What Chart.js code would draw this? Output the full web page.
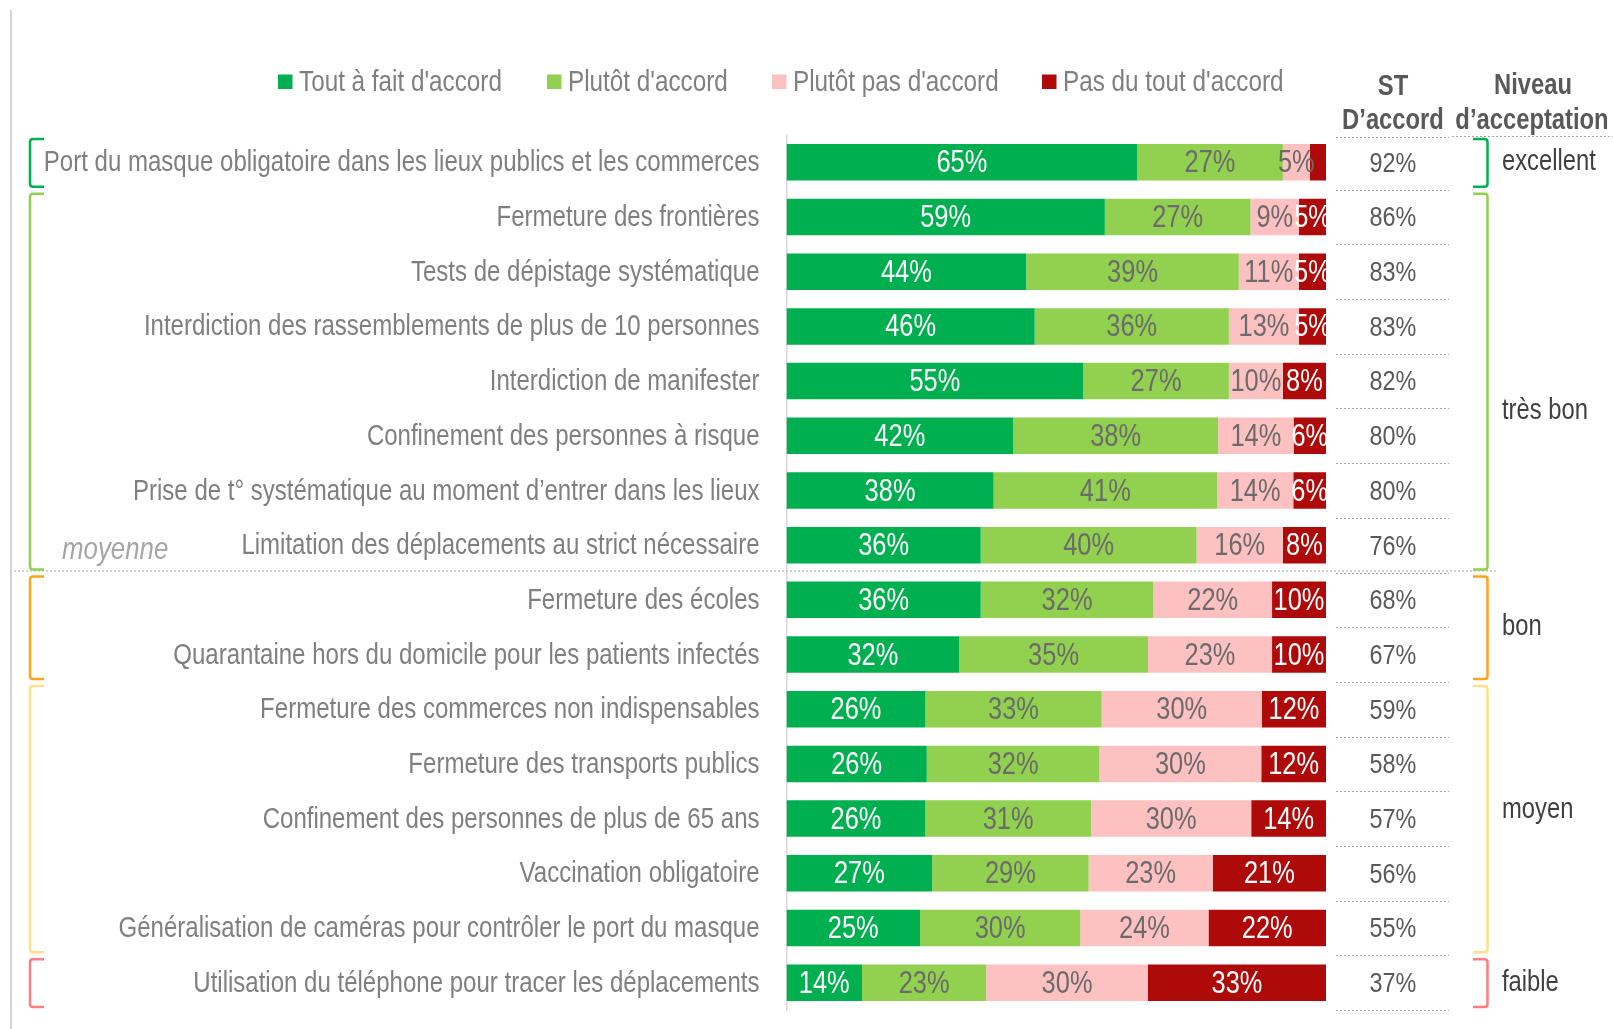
<!DOCTYPE html>
<html><head><meta charset="utf-8">
<script src="https://cdn.jsdelivr.net/npm/chart.js@4/dist/chart.umd.min.js"></script>
<style>html,body{margin:0;padding:0;background:#fff;overflow:hidden}#wrap{width:1613px;height:1029px;position:relative}canvas{display:block}</style>
</head><body><div id="wrap"><canvas id="c" width="1613" height="1029" style="width:1613px;height:1029px"></canvas></div>
<script>
const categories = [
  "Port du masque obligatoire dans les lieux publics et les commerces",
  "Fermeture des frontières",
  "Tests de dépistage systématique",
  "Interdiction des rassemblements de plus de 10 personnes",
  "Interdiction de manifester",
  "Confinement des personnes à risque",
  "Prise de t° systématique au moment d’entrer dans les lieux",
  "Limitation des déplacements au strict nécessaire",
  "Fermeture des écoles",
  "Quarantaine hors du domicile pour les patients infectés",
  "Fermeture des commerces non indispensables",
  "Fermeture des transports publics",
  "Confinement des personnes de plus de 65 ans",
  "Vaccination obligatoire",
  "Généralisation de caméras pour contrôler le port du masque",
  "Utilisation du téléphone pour tracer les déplacements"
];
const toutAFait = [65,59,44,46,55,42,38,36,36,32,26,26,26,27,25,14];
const plutot    = [27,27,39,36,27,38,41,40,32,35,33,32,31,29,30,23];
const plutotPas = [5,9,11,13,10,14,14,16,22,23,30,30,30,23,24,30];
const pasDuTout = [3,5,5,5,8,6,6,8,10,10,12,12,14,21,22,33];
const stAccord  = [92,86,83,83,82,80,80,76,68,67,59,58,57,56,55,37];
const seriesNames = ["Tout à fait d'accord","Plutôt d'accord","Plutôt pas d'accord","Pas du tout d'accord"];
const levelNames = ["excellent","très bon","bon","moyen","faible"];
const levelFirst = [0,1,8,10,15];
const levelLast  = [0,7,9,14,15];
const levelLabelAt = [0,4.55,8.5,11.85,15];
const averageLabel = "moyenne";
const averageAfter = 7;

const seriesColors = ["#00B050","#92D050","#FDC1C1","#AE0A0A"];
const labelColors = ["#ffffff","#6b6b6b","#6b6b6b","#ffffff"];
const levelColors = ["#00B050","#92D050","#FFA41C","#FFE08A","#FF7C80"];
const FONT = "'Liberation Sans',Arial,sans-serif";
const NARROW = 0.82;

const raw = [toutAFait, plutot, plutotPas, pasDuTout];
const totals = categories.map((_, i) => raw.reduce((s, a) => s + a[i], 0));
const datasets = raw.map((arr, k) => ({
  label: seriesNames[k],
  data: arr.map((v, i) => v * 100 / totals[i]),
  backgroundColor: seriesColors[k],
  borderWidth: 0,
  barPercentage: 0.667,
  categoryPercentage: 1
}));

function text(ctx, s, x, y, align, font, color) {
  ctx.save();
  ctx.translate(x, y);
  ctx.scale(NARROW, 1);
  ctx.font = font; ctx.fillStyle = color;
  ctx.textAlign = align; ctx.textBaseline = "middle";
  ctx.fillText(s, 0, 0);
  ctx.restore();
}
function dotted(ctx, x1, y1, x2, y2) {
  ctx.save();
  ctx.strokeStyle = "#a6a6a6"; ctx.lineWidth = 1; ctx.setLineDash([2,2]);
  ctx.beginPath(); ctx.moveTo(x1, y1); ctx.lineTo(x2, y2); ctx.stroke();
  ctx.restore();
}
function bracket(ctx, xv, xt, y1, y2, color) {
  const r = 3;
  const d = xt > xv ? 1 : -1;
  ctx.save();
  ctx.strokeStyle = color; ctx.lineWidth = 2.5; ctx.lineJoin = "round";
  ctx.beginPath();
  ctx.moveTo(xt, y1);
  ctx.lineTo(xv + d * r, y1);
  ctx.quadraticCurveTo(xv, y1, xv, y1 + r);
  ctx.lineTo(xv, y2 - r);
  ctx.quadraticCurveTo(xv, y2, xv + d * r, y2);
  ctx.lineTo(xt, y2);
  ctx.stroke();
  ctx.restore();
}

const decor = {
  id: "decor",
  beforeDatasetsDraw(chart) {
    const ctx = chart.ctx, y = chart.scales.y;
    const step = (y.bottom - y.top) / categories.length;
    ctx.save(); ctx.strokeStyle = "#c4c4c4"; ctx.lineWidth = 1.5;
    ctx.beginPath(); ctx.moveTo(11, 10); ctx.lineTo(11, 1029); ctx.stroke(); ctx.restore();
    const ya = y.top + step * (averageAfter + 1) - 1.5;
    dotted(ctx, 14, ya, 1497, ya);
  },
  afterDatasetsDraw(chart) {
    const ctx = chart.ctx;
    raw.forEach((arr, k) => {
      const meta = chart.getDatasetMeta(k);
      meta.data.forEach((el, i) => {
        if (arr[i] < 4) return;
        const p = el.getCenterPoint();
        text(ctx, arr[i] + "%", p.x, p.y + 1.5, "center", "31px " + FONT, labelColors[k]);
      });
    });
  },
  afterDraw(chart) {
    const ctx = chart.ctx, y = chart.scales.y;
    const step = (y.bottom - y.top) / categories.length;
    const bnd = i => y.top + step * i;
    y.ticks.forEach((t, i) => {
      text(ctx, chart.data.labels[t.value], y.right - 27, y.getPixelForTick(i) + 1, "right", "29.3px " + FONT, "#7f7f7f");
    });
    const legX = [278, 547, 772, 1042];
    seriesNames.forEach((n, k) => {
      ctx.fillStyle = seriesColors[k];
      ctx.fillRect(legX[k], 74.5, 14.5, 14.5);
      text(ctx, n, legX[k] + 21, 82.5, "left", "29.6px " + FONT, "#7f7f7f");
    });
    const hf = "bold 29px " + FONT;
    text(ctx, "ST", 1393, 87, "center", hf, "#595959");
    text(ctx, "D’accord", 1393, 121, "center", hf, "#595959");
    text(ctx, "Niveau", 1533, 86, "center", hf, "#595959");
    text(ctx, "d’acceptation", 1532, 121, "center", hf, "#595959");
    for (let i = 0; i <= categories.length; i++) {
      const yy = Math.round(bnd(i)) + 0.5 + (i === 0 ? 2 : 0);
      dotted(ctx, 1336, yy, 1449, yy);
    }
    dotted(ctx, 1452, Math.round(bnd(0)) + 1.5, 1613, Math.round(bnd(0)) + 1.5);
    stAccord.forEach((v, i) => text(ctx, v + "%", 1393, y.getPixelForValue(i) + 1.5, "center", "28.5px " + FONT, "#595959"));
    levelNames.forEach((n, g) => {
      const y1 = bnd(levelFirst[g]) + 4, y2 = bnd(levelLast[g] + 1) - 3;
      bracket(ctx, 30, 44, y1, y2, levelColors[g]);
      bracket(ctx, 1487.5, 1473, y1, y2, levelColors[g]);
      text(ctx, n, 1502, y.getPixelForValue(levelLabelAt[g]), "left", "29px " + FONT, "#404040");
    });
    text(ctx, averageLabel, 62, y.getPixelForValue(averageAfter) + 5, "left", "italic 31.5px " + FONT, "#a6a6a6");
  }
};

new Chart(document.getElementById("c"), {
  type: "bar",
  data: { labels: categories, datasets },
  options: {
    indexAxis: "y",
    responsive: false,
    animation: false,
    devicePixelRatio: 1,
    layout: { padding: { left: 0, right: 287, top: 135, bottom: 19 } },
    plugins: { legend: { display: false }, tooltip: { enabled: false } },
    scales: {
      x: { stacked: true, min: 0, max: 100, display: false },
      y: {
        stacked: true,
        grid: { display: false },
        border: { display: true, color: "#d9d9d9", width: 1.5 },
        ticks: { display: false, autoSkip: false },
        afterFit(scale) { scale.width = 786.5; }
      }
    }
  },
  plugins: [decor]
});
</script></body></html>
